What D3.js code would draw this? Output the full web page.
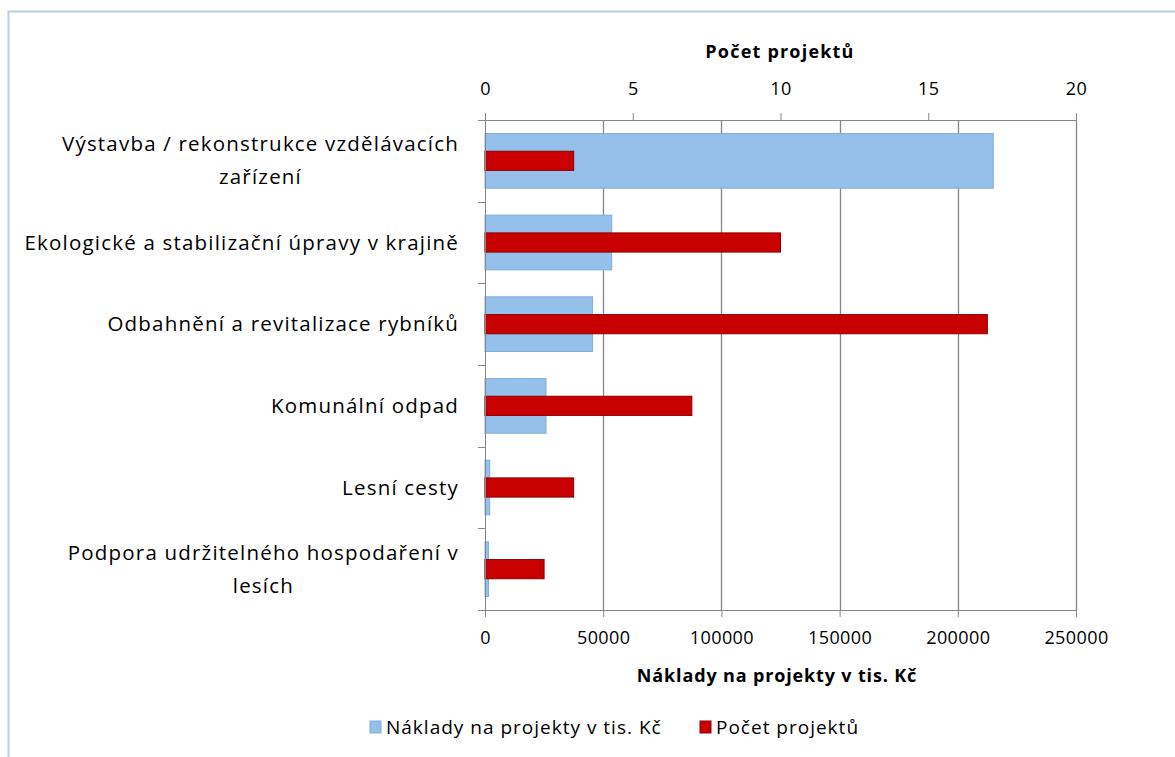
<!DOCTYPE html>
<html>
<head>
<meta charset="utf-8">
<script src="https://cdn.jsdelivr.net/npm/d3@7"></script>
<style>
    body { margin: 0; background: #fff; }
    svg { font-family: "Open Sans", sans-serif; }
    .axis path, .axis line { stroke: #868686; }
    .axis text { fill: #000; font-size: 18px; font-family: "Open Sans", sans-serif; letter-spacing: 0.4px; }
</style>
</head>
<body>
<div id="chart"></div>
<script>
    var categories = [
        'Výstavba / rekonstrukce vzdělávacích zařízení',
        'Ekologické a stabilizační úpravy v krajině',
        'Odbahnění a revitalizace rybníků',
        'Komunální odpad',
        'Lesní cesty',
        'Podpora udržitelného hospodaření v lesích'
    ];
    // label lines as wrapped in the original
    var category_lines = [
        ['Výstavba / rekonstrukce vzdělávacích', 'zařízení'],
        ['Ekologické a stabilizační úpravy v krajině'],
        ['Odbahnění a revitalizace rybníků'],
        ['Komunální odpad'],
        ['Lesní cesty'],
        ['Podpora udržitelného hospodaření v', 'lesích']
    ];
    var naklady = [215000, 53600, 45500, 25800, 2000, 1500];
    var pocet = [3, 10, 17, 7, 3, 2];
    var naklady_ticks = [0, 50000, 100000, 150000, 200000, 250000];
    var pocet_ticks = [0, 5, 10, 15, 20];

    var width = 1175, height = 757;
    var plot = { left: 485, right: 1076, top: 120, bottom: 610 };

    var svg = d3.select('#chart').append('svg')
        .attr('width', width)
        .attr('height', height);

    // chart frame
    svg.append('rect')
        .attr('x', 8.5).attr('y', 11.5)
        .attr('width', 1200).attr('height', 800)
        .attr('fill', 'none')
        .attr('stroke', '#b9cde5')
        .attr('stroke-width', 2);

    var x = d3.scaleLinear().domain([0, 250000]).range([plot.left, plot.right]);
    var x2 = d3.scaleLinear().domain([0, 20]).range([plot.left, plot.right]);
    var y = d3.scaleBand().domain(categories).range([plot.top, plot.bottom]).padding(0);

    // vertical gridlines
    svg.append('g').selectAll('line.grid')
        .data(naklady_ticks.slice(1))
        .enter().append('line')
        .attr('class', 'grid')
        .attr('x1', function(d){ return Math.round(x(d)) + 0.5; })
        .attr('x2', function(d){ return Math.round(x(d)) + 0.5; })
        .attr('y1', plot.top)
        .attr('y2', plot.bottom)
        .attr('stroke', '#868686')
        .attr('stroke-width', 1.3);

    var blue_h = y.bandwidth() * 0.67,
        red_h = y.bandwidth() * 0.235;

    // blue bars - costs
    svg.append('g').selectAll('rect.naklady')
        .data(categories)
        .enter().append('rect')
        .attr('class', 'naklady')
        .attr('x', x(0))
        .attr('y', function(d){ return y(d) + (y.bandwidth() - blue_h) / 2; })
        .attr('width', function(d, i){ return x(naklady[i]) - x(0); })
        .attr('height', blue_h)
        .attr('fill', '#95c0ea')
        .attr('stroke', '#7eaee0')
        .attr('stroke-width', 1);

    // red bars - number of projects
    svg.append('g').selectAll('rect.pocet')
        .data(categories)
        .enter().append('rect')
        .attr('class', 'pocet')
        .attr('x', x2(0))
        .attr('y', function(d){ return y(d) + (y.bandwidth() - red_h) / 2; })
        .attr('width', function(d, i){ return x2(pocet[i]) - x2(0); })
        .attr('height', red_h)
        .attr('fill', '#c80000')
        .attr('stroke', '#8e0000')
        .attr('stroke-width', 1);

    // bottom axis
    var bottom_axis = svg.append('g')
        .attr('class', 'axis')
        .attr('transform', 'translate(0,' + plot.bottom + ')')
        .call(d3.axisBottom(x).tickValues(naklady_ticks).tickSize(7).tickPadding(14).tickFormat(d3.format('d')));
    bottom_axis.select('.domain').attr('d', 'M' + plot.left + ',0.5H' + plot.right);

    // top axis
    var top_axis = svg.append('g')
        .attr('class', 'axis')
        .attr('transform', 'translate(0,' + plot.top + ')')
        .call(d3.axisTop(x2).tickValues(pocet_ticks).tickSize(7).tickPadding(18));
    top_axis.select('.domain').attr('d', 'M' + plot.left + ',0.5H' + plot.right);

    // left category axis
    var left = svg.append('g').attr('class', 'axis');
    left.append('line')
        .attr('x1', plot.left + 0.5).attr('x2', plot.left + 0.5)
        .attr('y1', plot.top).attr('y2', plot.bottom + 7);
    var bounds = categories.map(function(c){ return y(c); }).concat([plot.bottom]);
    left.selectAll('line.tick')
        .data(bounds)
        .enter().append('line')
        .attr('class', 'tick')
        .attr('x1', plot.left - 7).attr('x2', plot.left)
        .attr('y1', function(d){ return Math.round(d) + 0.5; })
        .attr('y2', function(d){ return Math.round(d) + 0.5; });

    // category labels
    var labels = svg.append('g').selectAll('text.cat')
        .data(categories)
        .enter().append('text')
        .attr('class', 'cat')
        .attr('text-anchor', 'middle')
        .attr('font-size', 20.5)
        .attr('letter-spacing', 1.2)
        .attr('fill', '#000')
        .attr('transform', function(d){ return 'translate(0,' + (y(d) + y.bandwidth() / 2) + ')'; });

    labels.each(function(d, i){
        var lines = category_lines[i];
        var t = d3.select(this);
        var w = 0;
        lines.forEach(function(l, j){
            var ts = t.append('tspan')
                .attr('y', (j - (lines.length - 1) / 2) * 33 + 7)
                .text(l);
            w = Math.max(w, ts.node().getComputedTextLength());
        });
        t.selectAll('tspan').attr('x', 459 - w / 2);
    });

    // axis titles
    svg.append('text')
        .attr('x', 780)
        .attr('y', 58)
        .attr('text-anchor', 'middle')
        .attr('font-size', 18)
        .attr('font-weight', 'bold')
        .attr('letter-spacing', 1.2)
        .text('Počet projektů');

    svg.append('text')
        .attr('x', 777)
        .attr('y', 682)
        .attr('text-anchor', 'middle')
        .attr('font-size', 18)
        .attr('font-weight', 'bold')
        .attr('letter-spacing', 0.85)
        .text('Náklady na projekty v tis. Kč');

    // legend
    var legend_items = [
        { label: 'Náklady na projekty v tis. Kč', fill: '#95c0ea', stroke: '#7eaee0', x: 370 },
        { label: 'Počet projektů', fill: '#c80000', stroke: '#8e0000', x: 700 }
    ];
    var legend = svg.append('g').selectAll('g.legend')
        .data(legend_items)
        .enter().append('g')
        .attr('class', 'legend')
        .attr('transform', function(d){ return 'translate(' + d.x + ',727)'; });
    legend.append('rect')
        .attr('x', 0).attr('y', -6)
        .attr('width', 11).attr('height', 12)
        .attr('fill', function(d){ return d.fill; })
        .attr('stroke', function(d){ return d.stroke; });
    legend.append('text')
        .attr('x', 16)
        .attr('y', 7)
        .attr('font-size', 19)
        .attr('letter-spacing', 1)
        .text(function(d){ return d.label; });
</script>
</body>
</html>
